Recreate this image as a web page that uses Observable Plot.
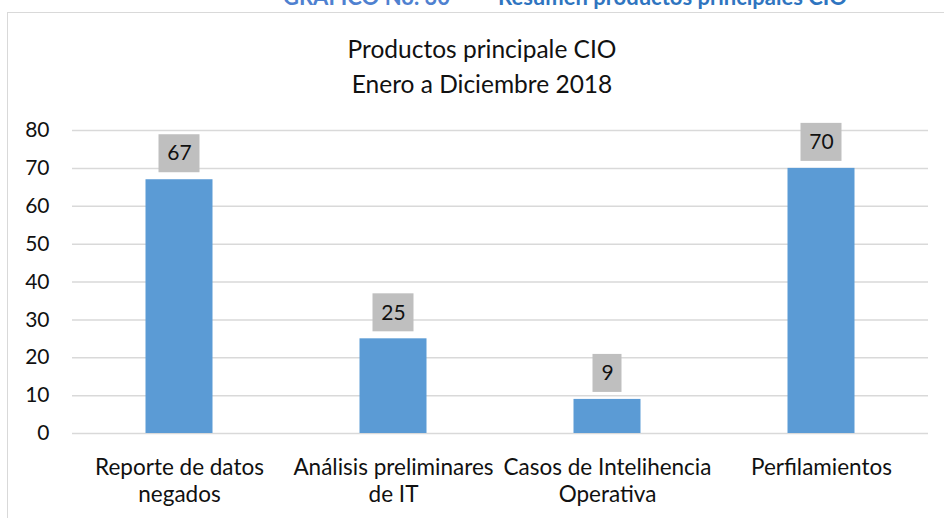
<!DOCTYPE html>
<html>
<head>
<meta charset="utf-8">
<script src="https://cdn.jsdelivr.net/npm/d3@7"></script>
<script src="https://cdn.jsdelivr.net/npm/@observablehq/plot@0.6"></script>
<style>
  html, body { margin: 0; padding: 0; background: #fff; }
  #wrap { position: relative; width: 944px; height: 518px; overflow: hidden; font-family: Lato, "Open Sans", sans-serif; }
  #frame { position: absolute; left: 7px; top: 12px; right: -20px; bottom: -20px; border-left: 1.5px solid #D9D9D9; border-top: 1.5px solid #D9D9D9; }
  .hdr { position: absolute; top: -14px; font-weight: bold; font-size: 22px; line-height: 22px; white-space: nowrap; }
  #title { position: absolute; left: 0; width: 964px; top: 31px; text-align: center; font-size: 24.5px; line-height: 35px; color: #111; }
  #chart { position: absolute; left: 0; top: 110px; }
</style>
</head>
<body>
<div id="wrap">
  <div id="frame"></div>
  <div class="hdr" style="left:283px;color:#4F81D0">GRAFICO No. 30</div>
  <div class="hdr" style="left:498px;color:#2F75C0">Resumen productos principales CIO</div>
  <div id="title">Productos principale CIO<br>Enero a Diciembre 2018</div>
  <div id="chart"></div>
</div>
<script>
const categories = ["Reporte de datos negados", "Análisis preliminares de IT", "Casos de Intelihencia Operativa", "Perfilamientos"];
const labels = ["Reporte de datos\nnegados", "Análisis preliminares\nde IT", "Casos de Intelihencia\nOperativa", "Perfilamientos"];
const values = [67, 25, 9, 70];
const yTicks = [0, 10, 20, 30, 40, 50, 60, 70, 80];

const rows = categories.map((c, i) => ({category: c, label: labels[i], value: values[i], text: String(values[i])}));

const boxMarks = [1, 2].map(len => Plot.barY(rows.filter(d => d.text.length === len), {
  x: "category", y1: "value", y2: "value",
  insetTop: -45, insetBottom: 7,
  insetLeft: len === 1 ? 92.5 : 86.5, insetRight: len === 1 ? 92.5 : 86.5,
  fill: "#BFBFBF"
}));

const chart = Plot.plot({
  width: 944,
  height: 408,
  marginTop: 20,
  marginBottom: 85,
  marginLeft: 72,
  marginRight: 16,
  style: {fontFamily: "Lato, 'Open Sans', sans-serif", fontSize: "21px", color: "#111", background: "transparent"},
  x: {domain: categories, padding: 0, axis: null},
  y: {domain: [0, 80], ticks: yTicks, tickSize: 0, tickPadding: 23, label: null},
  marks: [
    Plot.ruleY(yTicks, {stroke: "#D9D9D9", strokeWidth: 1.5}),
    Plot.barY(rows, {x: "category", y: "value", fill: "#5B9BD5", insetLeft: 73.5, insetRight: 73.5}),
    ...boxMarks,
    Plot.text(rows, {x: "category", y: "value", text: "text", dy: -26, fontSize: 21, fill: "#111"}),
    Plot.text(rows, {x: "category", text: "label", frameAnchor: "bottom", lineAnchor: "top", dy: 22, lineHeight: 1.22, fontSize: 22.5, fill: "#111"})
  ]
});
document.getElementById("chart").appendChild(chart);
</script>
</body>
</html>
